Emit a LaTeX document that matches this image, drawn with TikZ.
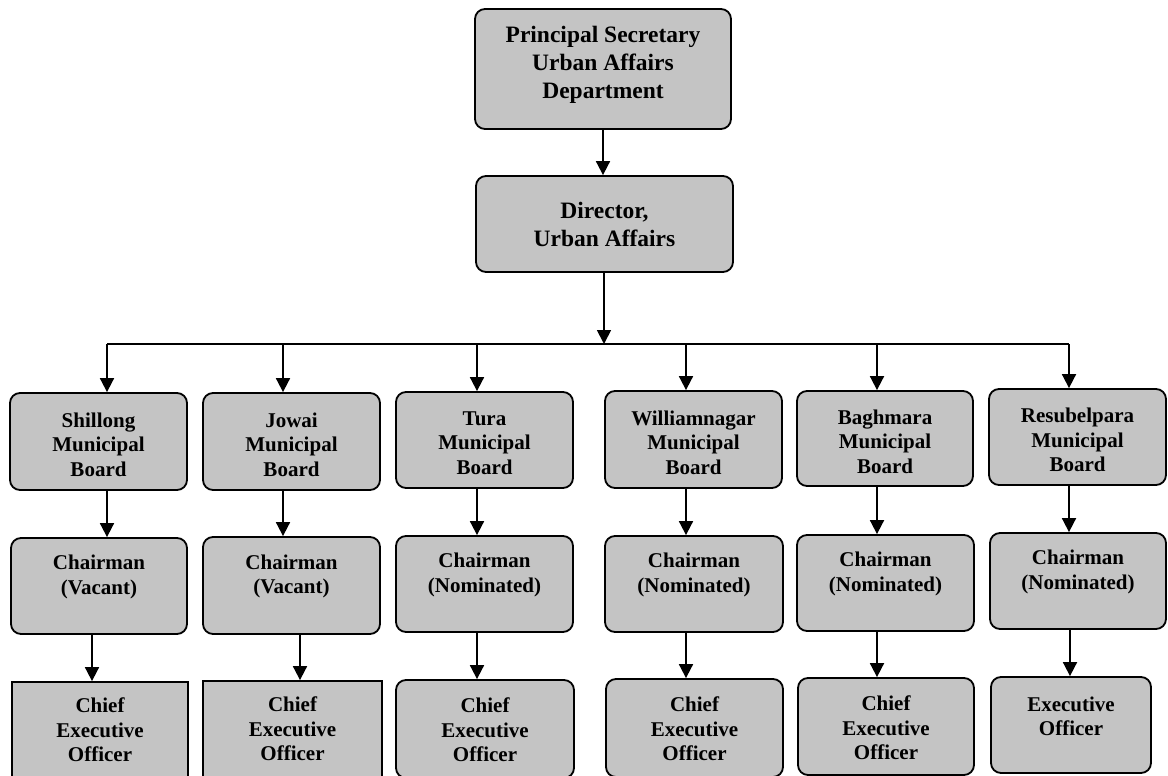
\documentclass[tikz,border=0pt]{standalone}
\usepackage{fontspec}
\setmainfont{Liberation Serif}
\usetikzlibrary{arrows.meta}
\definecolor{boxgray}{RGB}{196,196,196}
\tikzset{
  box/.style={draw=black, line width=1.8pt, fill=boxgray, rounded corners=10pt, inner sep=0pt},
  sqbox/.style={box, rounded corners=0pt},
  lbl/.style={align=center, font=\bfseries\fontsize{21}{24.5}\selectfont, inner sep=0pt},
  biglbl/.style={align=center, font=\bfseries\fontsize{23.5}{28}\selectfont, inner sep=0pt},
  arr/.style={line width=1.8pt, -{Triangle[width=14pt,length=14pt]}},
  conn/.style={line width=1.8pt},
}
% \mkbox{name}{style}{x1}{y1}{x2}{y2}
\newcommand\mkbox[6]{%
  \node[#2, minimum width={#5-#3}, minimum height={#6-#4}] (#1) at ({(#3+#5)/2},{(#4+#6)/2}) {};%
}
\begin{document}
\begin{tikzpicture}[x=1pt,y=-1pt]
\useasboundingbox (0,0) rectangle (1168,776);
\fill[white] (0,0) rectangle (1168,776);
\clip (0,0) rectangle (1168,776);

% boxes
\mkbox{top}{box}{475}{9}{731}{129}
\mkbox{dir}{box}{476}{176}{733}{272}

\mkbox{b1}{box}{10}{393}{187}{490}
\mkbox{b2}{box}{203}{393}{380}{490}
\mkbox{b3}{box}{396}{392}{573}{488}
\mkbox{b4}{box}{605}{391}{782}{488}
\mkbox{b5}{box}{797}{391}{973}{486}
\mkbox{b6}{box}{989}{389}{1166}{485}

\mkbox{c1}{box}{11}{538}{187}{634}
\mkbox{c2}{box}{203}{537}{380}{634}
\mkbox{c3}{box}{396}{536}{573}{632}
\mkbox{c4}{box}{605}{536}{783}{632}
\mkbox{c5}{box}{797}{535}{974}{631}
\mkbox{c6}{box}{990}{533}{1166}{629}

\mkbox{e1}{sqbox}{12}{682}{188}{802}
\mkbox{e2}{sqbox}{203}{681}{382}{801}
\mkbox{e3}{box}{396}{680}{574}{778}
\mkbox{e4}{box}{606}{679}{783}{777}
\mkbox{e5}{box}{798}{678}{974}{775}
\mkbox{e6}{box}{991}{677}{1151}{773}

% texts
\node[biglbl] (topt) at ([yshift=4pt]top.center) {Principal Secretary\\Urban Affairs\\Department};
\node[biglbl] (dirt) at (dir.center) {Director,\\Urban Affairs};

\node[lbl] (b1t) at ([yshift=-3pt]b1.center) {Shillong\\Municipal\\Board};
\node[lbl] (b2t) at ([yshift=-3pt]b2.center) {Jowai\\Municipal\\Board};
\node[lbl] (b3t) at ([yshift=-3pt]b3.center) {Tura\\Municipal\\Board};
\node[lbl] (b4t) at ([yshift=-3pt]b4.center) {Williamnagar\\Municipal\\Board};
\node[lbl] (b5t) at ([yshift=-3pt]b5.center) {Baghmara\\Municipal\\Board};
\node[lbl] (b6t) at ([yshift=-3pt]b6.center) {Resubelpara\\Municipal\\Board};

\node[lbl] (c1t) at ([yshift=9pt]c1.center) {Chairman\\(Vacant)};
\node[lbl] (c2t) at ([yshift=9pt]c2.center) {Chairman\\(Vacant)};
\node[lbl] (c3t) at ([yshift=9pt]c3.center) {Chairman\\(Nominated)};
\node[lbl] (c4t) at ([yshift=9pt]c4.center) {Chairman\\(Nominated)};
\node[lbl] (c5t) at ([yshift=9pt]c5.center) {Chairman\\(Nominated)};
\node[lbl] (c6t) at ([yshift=9pt]c6.center) {Chairman\\(Nominated)};

\node[lbl] (e1t) at ([yshift=-49pt]e1.north) {Chief\\Executive\\Officer};
\node[lbl] (e2t) at ([yshift=-49pt]e2.north) {Chief\\Executive\\Officer};
\node[lbl] (e3t) at ([yshift=-51pt]e3.north) {Chief\\Executive\\Officer};
\node[lbl] (e4t) at ([yshift=-51pt]e4.north) {Chief\\Executive\\Officer};
\node[lbl] (e5t) at ([yshift=-51pt]e5.north) {Chief\\Executive\\Officer};
\node[lbl] (e6t) at ([yshift=-40pt]e6.north) {Executive\\Officer};

% connector coordinates
\coordinate (bus) at (604,344);
\coordinate (p1) at (107,344);
\coordinate (p2) at (283,344);
\coordinate (p3) at (477,344);
\coordinate (p4) at (686,344);
\coordinate (p5) at (877,344);
\coordinate (p6) at (1069,344);
\coordinate (q1) at (92,0);
\coordinate (q2) at (300,0);
\coordinate (q3) at (477,0);
\coordinate (q4) at (686,0);
\coordinate (q5) at (877,0);
\coordinate (q6) at (1070,0);

% connectors
\draw[arr] (top.south) -- (top.south |- dir.north);
\draw[arr] (dir.south -| bus) -- (bus);
\draw[conn] (p1) -- (p6);
\foreach \i in {1,...,6}{
  \draw[arr] (p\i) -- (p\i |- b\i.north);
  \draw[arr] (b\i.south -| p\i) -- (c\i.north -| p\i);
  \draw[arr] (c\i.south -| q\i) -- (e\i.north -| q\i);
}
\end{tikzpicture}
\end{document}
